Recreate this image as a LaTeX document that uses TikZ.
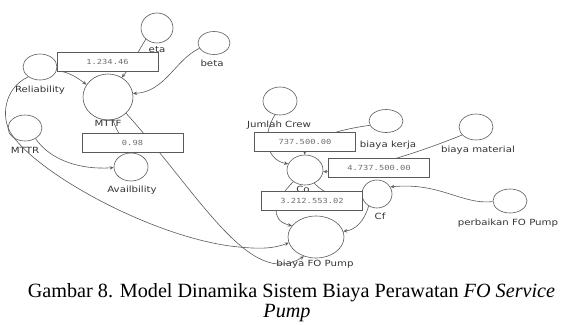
\documentclass[tikz,border=0pt]{standalone}
\usepackage{fontspec}
\setmainfont{Liberation Serif}
\newfontfamily\labfont[FakeStretch=1.2]{DejaVu Sans}
\newfontfamily\numfont[FakeStretch=1.25]{DejaVu Sans Mono}
\usetikzlibrary{shapes.geometric,arrows.meta}
\definecolor{lc}{HTML}{5A5A5A}
\definecolor{tc}{HTML}{333333}
\definecolor{nc}{HTML}{707070}
\tikzset{
  var/.style={ellipse, draw=lc, line width=0.6pt, inner sep=0pt},
  lab/.style={font=\labfont\fontsize{8.5}{10}\selectfont, text=tc, inner sep=0pt},
  numbox/.style={draw=lc, fill=white, line width=0.6pt, minimum width=101pt, minimum height=19pt, inner sep=0pt, font=\numfont\fontsize{7}{8}\selectfont, text=nc},
  conn/.style={draw=lc, line width=0.6pt, -{Stealth[open, length=4pt, width=3.5pt]}},
  captext/.style={anchor=base, inner sep=0pt, font=\fontsize{20.2}{22}\selectfont}
}
\begin{document}
\begin{tikzpicture}[x=1pt,y=1pt]
\fill[white] (0,0) rectangle (561,-324);
\useasboundingbox (0,0) rectangle (561,-324);
% variables
\node[var, minimum width=32pt, minimum height=30pt] (eta) at (157,-28) {};
\node[var, minimum width=32pt, minimum height=23pt] (beta) at (214,-43) {};
\node[var, minimum width=34pt, minimum height=26pt] (rel) at (40,-67) {};
\node[var, minimum width=50pt, minimum height=46pt] (mttf) at (108,-97) {};
\node[var, minimum width=34pt, minimum height=26pt] (mttr) at (25,-128) {};
\node[var, minimum width=34pt, minimum height=28pt] (avail) at (131,-167) {};
\node[var, minimum width=34pt, minimum height=28pt] (crew) at (280,-101) {};
\node[var, minimum width=34pt, minimum height=23pt] (kerja) at (386,-121) {};
\node[var, minimum width=34pt, minimum height=26pt] (mat) at (476,-127) {};
\node[var, minimum width=36pt, minimum height=30pt] (co) at (305,-170) {};
\node[var, minimum width=30pt, minimum height=28pt] (cf) at (377,-194) {};
\node[var, minimum width=34pt, minimum height=24pt] (perb) at (510,-201) {};
\node[var, minimum width=56pt, minimum height=42pt] (bfp) at (316,-237) {};
% labels
\node[lab] (leta) at (157,-50) {eta};
\node[lab] (lbeta) at (212,-63) {beta};
\node[lab] (lrel) at (40,-90) {Reliability};
\node[lab] (lmttf) at (108,-123) {MTTF};
\node[lab] (lmttr) at (25,-150) {MTTR};
\node[lab] (lavail) at (132,-190) {Availbility};
\node[lab] (lcrew) at (279,-125) {Jumlah Crew};
\node[lab] (lkerja) at (388,-145) {biaya kerja};
\node[lab] (lmat) at (478,-150) {biaya material};
\node[lab] (lco) at (303,-189) {Co};
\node[lab] (lcf) at (380,-216) {Cf};
\node[lab] (lperb) at (508,-223) {perbaikan FO Pump};
\node[lab] (lbfp) at (315,-264) {biaya FO Pump};
% connectors
\draw[conn] (eta.225) .. controls (136,-55) and (130,-68) .. (mttf.55);
\draw[conn] (beta.200) .. controls (175,-60) and (165,-92) .. (mttf.8);
\draw[conn] (rel.-12) .. controls (68,-72) and (75,-76) .. (mttf.150);
\draw[conn] (rel.220) .. controls (4,-88) and (0,-118) .. (12,-135) .. controls (40,-175) and (150,-235) .. (230,-246) .. controls (262,-250) and (275,-248) .. (bfp.192);
\draw[conn] (mttr.-45) .. controls (50,-160) and (80,-170) .. (avail.182);
\draw[conn] (mttf.-78) .. controls (117,-132) and (124,-142) .. (avail.92);
\draw[conn] (mttf.-42) .. controls (200,-195) and (250,-290) .. (bfp.238);
\draw[conn] (crew.250) .. controls (262,-135) and (266,-160) .. (co.160);
\draw[conn] (kerja.195) .. controls (335,-130) and (306,-140) .. (co.92);
\draw[conn] (mat.210) .. controls (420,-152) and (360,-172) .. (co.-5);
\draw[conn] (co.225) .. controls (275,-200) and (268,-220) .. (bfp.155);
\draw[conn] (co.-55) .. controls (326,-196) and (345,-200) .. (cf.190);
\draw[conn] (cf.235) .. controls (364,-222) and (355,-230) .. (bfp.12);
\draw[conn] (perb.182) .. controls (462,-205) and (440,-182) .. (cf.28);
% value boxes
\node[numbox] (b1) at (107.5,-62) {1.234.46};
\node[numbox] (b2) at (132.5,-142.5) {0.98};
\node[numbox] (b3) at (305,-142) {737.500.00};
\node[numbox] (b4) at (379,-168) {4.737.500.00};
\node[numbox] (b5) at (312,-201) {3.212.553.02};
% caption
\node[captext] (cap1) at (291.5,-297) {Gambar 8. Model Dinamika Sistem Biaya Perawatan \textit{FO Service}};
\node[captext] (cap2) at (287,-317) {\textit{Pump}};
\end{tikzpicture}
\end{document}
